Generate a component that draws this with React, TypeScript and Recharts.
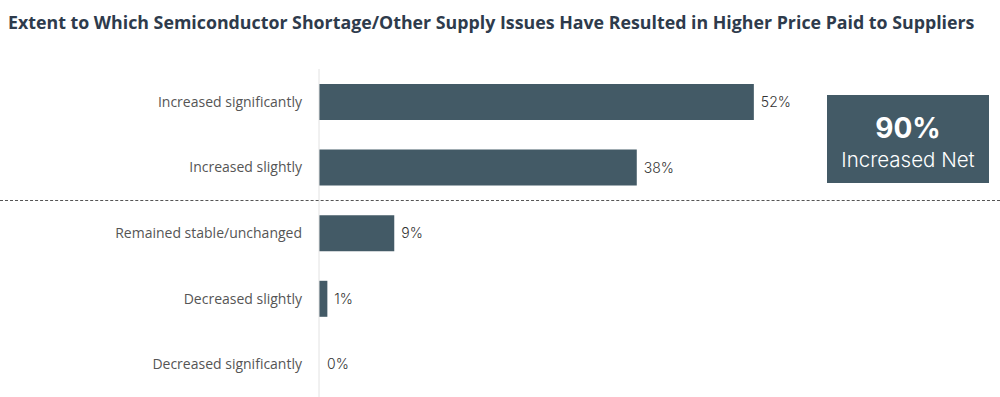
import React from 'react';
import { BarChart, Bar, XAxis, YAxis, LabelList, Cell } from 'recharts';

const categories = [
  'Increased significantly',
  'Increased slightly',
  'Remained stable/unchanged',
  'Decreased slightly',
  'Decreased significantly',
];
const shares = [52, 38, 9, 1, 0];
const netLabel = '90%';
const netCaption = 'Increased Net';

const data = categories.map((name, i) => ({ name, value: shares[i] }));

const BAR = '#435a66';

export default function App() {
  return (
    <div style={{ position: 'absolute', left: 0, top: 0, width: 1000, height: 397, background: '#fff' }}>
      <div
        style={{
          position: 'absolute',
          left: 8,
          top: 10,
          fontFamily: '"Open Sans", sans-serif',
          fontWeight: 700,
          fontSize: 17.8,
          color: '#2e3b4c',
          whiteSpace: 'nowrap',
        }}
      >
        Extent to Which Semiconductor Shortage/Other Supply Issues Have Resulted in Higher Price Paid to Suppliers
      </div>
      <BarChart
        width={1000}
        height={397}
        data={data}
        layout="vertical"
        margin={{ top: 69, right: 12, bottom: 0, left: 0 }}
        barCategoryGap={29}
      >
        <XAxis type="number" domain={[0, 80]} hide />
        <YAxis
          type="category"
          dataKey="name"
          width={319}
          axisLine={{ stroke: '#e2e2e2' }}
          tickLine={false}
          tickMargin={11}
          tick={{ fill: '#555', fontSize: 14, fontFamily: '"Open Sans", sans-serif' }}
        />
        <Bar dataKey="value" fill={BAR} barSize={36} minPointSize={1} isAnimationActive={false}>
          {data.map((d) => (
            <Cell key={d.name} fill={d.value > 0 ? BAR : 'transparent'} />
          ))}
          <LabelList
            dataKey="value"
            position="right"
            offset={7}
            formatter={(v: number) => `${v}%`}
            style={{ fill: '#333', fontSize: 14, fontWeight: 300, fontFamily: 'Inter, sans-serif' }}
          />
        </Bar>
      </BarChart>
      <div
        style={{
          position: 'absolute',
          left: 0,
          top: 200,
          width: 1000,
          borderTop: '1px dashed #555',
        }}
      />
      <div
        style={{
          position: 'absolute',
          left: 827,
          top: 95,
          width: 162,
          height: 88,
          background: BAR,
          color: '#fff',
          textAlign: 'center',
          fontFamily: 'Inter, sans-serif',
        }}
      >
        <div style={{ fontSize: 28, fontWeight: 700, marginTop: 16, lineHeight: '34px' }}>{netLabel}</div>
        <div style={{ fontSize: 20.5, fontWeight: 300, marginTop: 2, lineHeight: '26px' }}>{netCaption}</div>
      </div>
    </div>
  );
}
